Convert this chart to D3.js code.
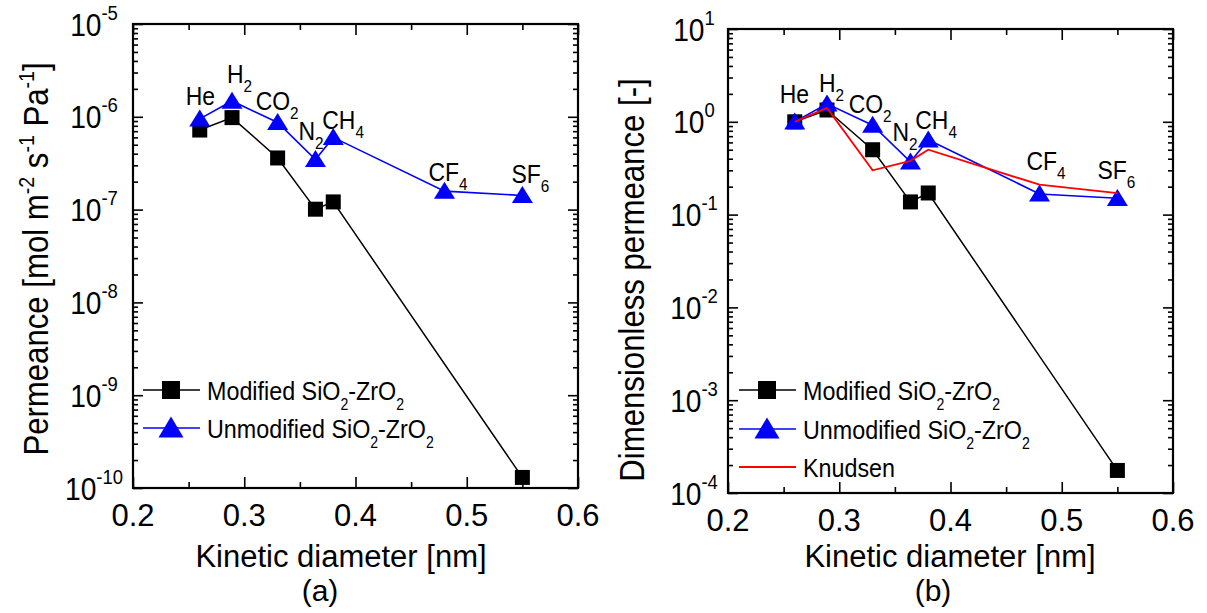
<!DOCTYPE html>
<html>
<head>
<meta charset="utf-8">
<script src="https://cdn.jsdelivr.net/npm/d3@7"></script>
<style>
  html, body { margin: 0; padding: 0; background: #fff; }
  svg { display: block; }
  text { font-family: "Liberation Sans", Arial, sans-serif; fill: #000; }
</style>
</head>
<body>
<svg id="chart" width="1207" height="613"></svg>
<script>
// Gas species and their kinetic diameters [nm]
const gases = ["He", "H2", "CO2", "N2", "CH4", "CF4", "SF6"];
const kineticDiameter = [0.26, 0.289, 0.33, 0.364, 0.38, 0.48, 0.55];

// (a) single-gas permeance [mol m-2 s-1 Pa-1]; CF4 was not measured for the modified membrane
const permeanceModified   = [7.2e-7, 9.8e-7, 3.6e-7, 1.01e-7, 1.21e-7, null, 1.3e-10];
const permeanceUnmodified = [9.5e-7, 1.48e-6, 8.7e-7, 3.47e-7, 6.0e-7, 1.58e-7, 1.42e-7];

// (b) permeance normalised by the He permeance [-]
const dimlessModified   = [1.0, 1.34, 0.50, 0.137, 0.171, null, 1.75e-4];
const dimlessUnmodified = [1.0, 1.56, 0.92, 0.37, 0.64, 0.167, 0.15];
const dimlessKnudsen    = [1.0, 1.41, 0.30, 0.38, 0.50, 0.21, 0.17];

// Axis ticks
const xTicks = [0.2, 0.3, 0.4, 0.5, 0.6];
const xMinorTicks = [0.25, 0.35, 0.45, 0.55];
const permeanceExponents = [-10, -9, -8, -7, -6, -5];
const dimlessExponents = [-4, -3, -2, -1, 0, 1];

// Gas labels as subscript segments
const gasLabelParts = {
  He: [["He", 0]], H2: [["H", 0], ["2", 1]], CO2: [["CO", 0], ["2", 1]],
  N2: [["N", 0], ["2", 1]], CH4: [["CH", 0], ["4", 1]],
  CF4: [["CF", 0], ["4", 1]], SF6: [["SF", 0], ["6", 1]]
};

const svg = d3.select("#chart");
svg.append("rect").attr("width", 1207).attr("height", 613).attr("fill", "#fff");

// Writes text made of [string, mode] parts: 0 normal, 1 subscript, 2 superscript
function richText(sel, parts, size, small, subShift, supShift) {
  let cur = 0;
  parts.forEach(([s, mode]) => {
    const target = mode === 1 ? subShift : mode === 2 ? -supShift : 0;
    sel.append("tspan")
      .attr("dy", target - cur)
      .attr("font-size", mode ? small : size)
      .text(s);
    cur = target;
  });
  return sel;
}

// Narrow-set text: placed at (x, y), squeezed horizontally
function narrowText(parent, x, y, sx, rotate) {
  return parent.append("text")
    .attr("transform", `translate(${x},${y})${rotate ? " rotate(-90)" : ""} scale(${sx},1)`);
}

function trianglePath(cx, cy, w, h) {
  return `M${cx},${cy - h * 0.55}L${cx + w / 2},${cy + h * 0.45}L${cx - w / 2},${cy + h * 0.45}Z`;
}

function drawPanel(cfg) {
  const g = svg.append("g");
  const x = d3.scaleLinear().domain([0.2, 0.6]).range([cfg.left, cfg.right]);
  const yDom = [Math.pow(10, cfg.exps[0]), Math.pow(10, cfg.exps[cfg.exps.length - 1])];
  const y = d3.scaleLog().domain(yDom).range([cfg.bottom, cfg.top]);

  const majorY = cfg.exps.map(e => Math.pow(10, e));
  const minorY = [];
  cfg.exps.slice(0, -1).forEach(e => {
    for (let k = 2; k <= 9; k++) minorY.push(k * Math.pow(10, e));
  });

  const axisStyle = a => {
    a.select(".domain").remove();
    a.selectAll("line").attr("stroke", "#000").attr("stroke-width", 1.6);
    a.selectAll("text").remove();
  };
  // ticks on all four sides, pointing inward
  g.append("g").attr("transform", `translate(0,${cfg.bottom})`)
    .call(d3.axisBottom(x).tickValues(xTicks).tickSize(-11)).call(axisStyle);
  g.append("g").attr("transform", `translate(0,${cfg.bottom})`)
    .call(d3.axisBottom(x).tickValues(xMinorTicks).tickSize(-6)).call(axisStyle);
  g.append("g").attr("transform", `translate(0,${cfg.top})`)
    .call(d3.axisTop(x).tickValues(xTicks).tickSize(-11)).call(axisStyle);
  g.append("g").attr("transform", `translate(0,${cfg.top})`)
    .call(d3.axisTop(x).tickValues(xMinorTicks).tickSize(-6)).call(axisStyle);
  g.append("g").attr("transform", `translate(${cfg.left},0)`)
    .call(d3.axisLeft(y).tickValues(majorY).tickSize(-10)).call(axisStyle);
  g.append("g").attr("transform", `translate(${cfg.left},0)`)
    .call(d3.axisLeft(y).tickValues(minorY).tickSize(-5)).call(axisStyle);
  g.append("g").attr("transform", `translate(${cfg.right},0)`)
    .call(d3.axisRight(y).tickValues(majorY).tickSize(-10)).call(axisStyle);
  g.append("g").attr("transform", `translate(${cfg.right},0)`)
    .call(d3.axisRight(y).tickValues(minorY).tickSize(-5)).call(axisStyle);

  // frame
  g.append("rect")
    .attr("x", cfg.left).attr("y", cfg.top)
    .attr("width", cfg.right - cfg.left).attr("height", cfg.bottom - cfg.top)
    .attr("fill", "none").attr("stroke", "#000").attr("stroke-width", 2.2);

  // x tick labels
  g.selectAll(".xl").data(xTicks).enter().append("text")
    .attr("x", d => x(d)).attr("y", cfg.bottom + 38)
    .attr("text-anchor", "middle").attr("font-size", 31)
    .text(d => d.toFixed(1));

  // y tick labels 10^n
  cfg.exps.forEach(e => {
    const t = narrowText(g, cfg.left - cfg.labelGap, y(Math.pow(10, e)) + 11.5, 0.88)
      .attr("text-anchor", "middle");
    richText(t, [["10", 0], [e < 0 ? "-" + (-e) : String(e), 2]], 32, 21, 0, 16);
  });

  // axis titles
  g.append("text")
    .attr("x", cfg.xTitleX).attr("y", 567)
    .attr("text-anchor", "middle").attr("font-size", 31)
    .text("Kinetic diameter [nm]");
  g.append("text")
    .attr("x", cfg.tagX).attr("y", 601)
    .attr("text-anchor", "middle").attr("font-size", 30)
    .text(cfg.tag);
  const yt = narrowText(g, cfg.yTitleX, cfg.yTitleY, 0.89, true)
    .attr("text-anchor", "middle");
  richText(yt, cfg.yTitle, 35, 22, 0, 14);

  // series
  const pts = vals => vals.map((v, i) => ({ d: kineticDiameter[i], v })).filter(p => p.v != null);
  const line = d3.line().x(p => x(p.d)).y(p => y(p.v));

  const mod = pts(cfg.modified);
  g.append("path").attr("d", line(mod)).attr("fill", "none")
    .attr("stroke", "#000").attr("stroke-width", 1.5);
  g.selectAll(".sq").data(mod).enter().append("rect")
    .attr("x", p => x(p.d) - 7.5).attr("y", p => y(p.v) - 7.5)
    .attr("width", 15).attr("height", 15).attr("fill", "#000");

  const unm = pts(cfg.unmodified);
  g.append("path").attr("d", line(unm)).attr("fill", "none")
    .attr("stroke", "#0000ff").attr("stroke-width", 1.6);
  g.selectAll(".tri").data(unm).enter().append("path")
    .attr("d", p => trianglePath(x(p.d), y(p.v), 21, 17)).attr("fill", "#0000ff");

  if (cfg.knudsen) {
    g.append("path").attr("d", line(pts(cfg.knudsen))).attr("fill", "none")
      .attr("stroke", "#ff0000").attr("stroke-width", 1.8);
  }

  // gas labels beside the unmodified points
  gases.forEach((gas, i) => {
    const t = narrowText(g,
      x(kineticDiameter[i]) + cfg.labelOffsets[i][0],
      y(cfg.unmodified[i]) + cfg.labelOffsets[i][1], 0.9);
    richText(t, gasLabelParts[gas], 25.5, 17, 9, 0);
  });

  // legend
  const lg = g.append("g");
  cfg.legend.forEach((item, i) => {
    const ly = cfg.legendY[i];
    lg.append("line")
      .attr("x1", cfg.legendX).attr("x2", cfg.legendX + 57)
      .attr("y1", ly).attr("y2", ly)
      .attr("stroke", item.color).attr("stroke-width", item.marker ? 1.5 : 1.8);
    const mx = cfg.legendX + 28;
    if (item.marker === "square") {
      lg.append("rect").attr("x", mx - 9).attr("y", ly - 9)
        .attr("width", 18).attr("height", 18).attr("fill", "#000");
    } else if (item.marker === "triangle") {
      lg.append("path").attr("d", trianglePath(mx, ly, 25, 21)).attr("fill", "#0000ff");
    }
    const t = narrowText(lg, cfg.legendX + 64, ly + 9.5, 0.88);
    richText(t, item.parts, 26.5, 16, 10, 0);
  });
}

const oxideParts = prefix => [[prefix + " SiO", 0], ["2", 1], ["-ZrO", 0], ["2", 1]];

drawPanel({
  left: 133, right: 578, top: 24, bottom: 488,
  exps: permeanceExponents, labelGap: 39,
  modified: permeanceModified, unmodified: permeanceUnmodified,
  xTitleX: 341, tagX: 320, tag: "(a)",
  yTitleX: 48, yTitleY: 259,
  yTitle: [["Permeance [mol m", 0], ["-2", 2], [" s", 0], ["-1", 2], [" Pa", 0], ["-1", 2], ["]", 0]],
  labelOffsets: [[-14, -14], [-5, -18], [-22, -12], [-17, -19], [-11, -8], [-16, -10], [-11, -12]],
  legendX: 143, legendY: [390, 428],
  legend: [
    { color: "#000", marker: "square", parts: oxideParts("Modified") },
    { color: "#0000ff", marker: "triangle", parts: oxideParts("Unmodified") }
  ]
});

drawPanel({
  left: 728, right: 1173, top: 29, bottom: 493,
  exps: dimlessExponents, labelGap: 34,
  modified: dimlessModified, unmodified: dimlessUnmodified, knudsen: dimlessKnudsen,
  xTitleX: 950, tagX: 933, tag: "(b)",
  yTitleX: 644, yTitleY: 280,
  yTitle: [["Dimensionless permeance [-]", 0]],
  labelOffsets: [[-15, -19], [-8, -12], [-24, -12], [-18, -21], [-13, -11], [-13, -24], [-20, -19]],
  legendX: 739, legendY: [390, 429, 467],
  legend: [
    { color: "#000", marker: "square", parts: oxideParts("Modified") },
    { color: "#0000ff", marker: "triangle", parts: oxideParts("Unmodified") },
    { color: "#ff0000", marker: null, parts: [["Knudsen", 0]] }
  ]
});
</script>
</body>
</html>
